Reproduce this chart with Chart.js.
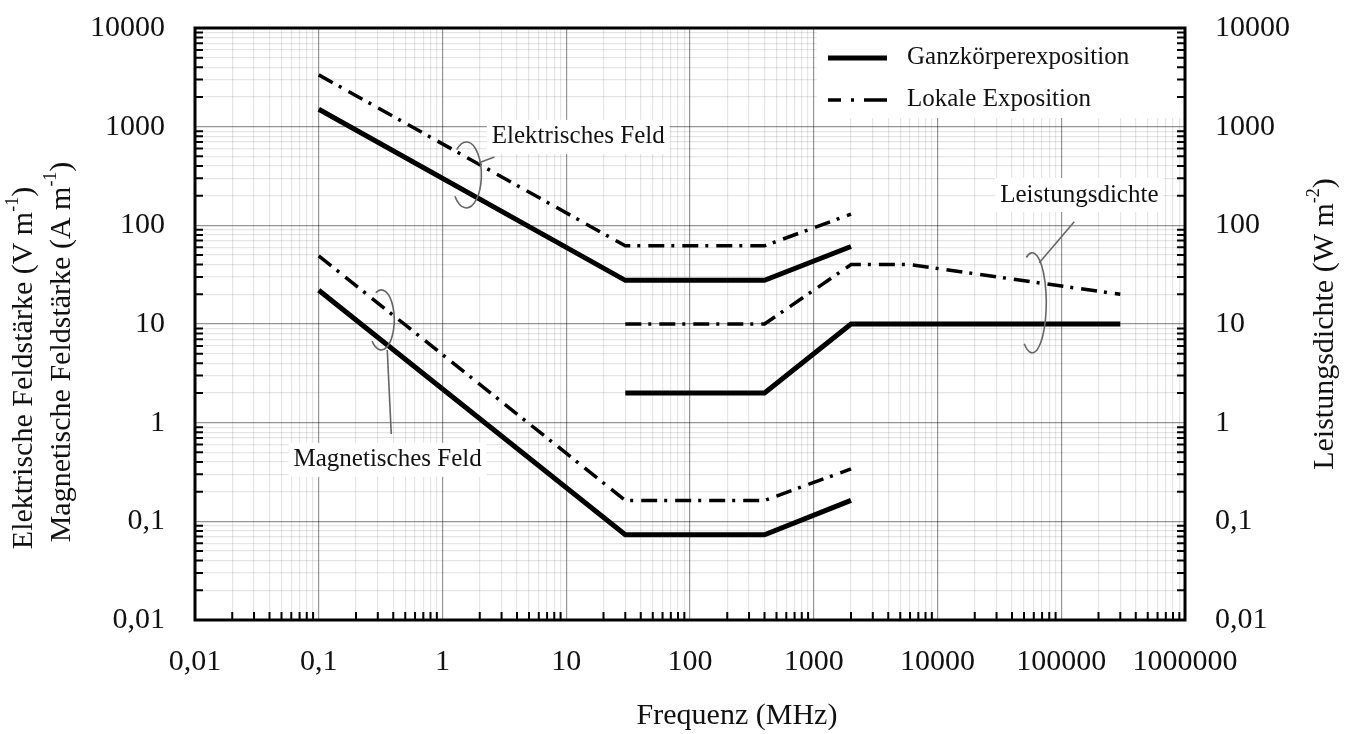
<!DOCTYPE html>
<html>
<head>
<meta charset="utf-8">
<script src="https://cdn.jsdelivr.net/npm/chart.js@4.4.1/dist/chart.umd.min.js"></script>
<style>
  html, body { margin: 0; padding: 0; background: #fff; }
  canvas { display: block; }
</style>
</head>
<body>
<canvas id="myChart" width="1355" height="734"></canvas>
<script>
const wholeE_f = [0.1, 30, 400, 2000];
const wholeE_v = [1500, 27.7, 27.7, 61];
const wholeH_f = [0.1, 30, 400, 2000];
const wholeH_v = [22, 0.073, 0.073, 0.163];
const wholeS_f = [30, 400, 2000, 300000];
const wholeS_v = [2, 2, 10, 10];
const localE_f = [0.1, 30, 400, 2000];
const localE_v = [3350, 62, 62, 130];
const localH_f = [0.1, 30, 400, 2000];
const localH_v = [49, 0.163, 0.163, 0.34];
const localS_f = [30, 400, 2000, 6000, 300000];
const localS_v = [10, 10, 40, 40, 20];

const xTickLabels = ["0,01", "0,1", "1", "10", "100", "1000", "10000", "100000", "1000000"];
const yTickLabels = ["0,01", "0,1", "1", "10", "100", "1000", "10000"];

const SERIF = '"Liberation Serif", "DejaVu Serif", serif';
const DASHDOT = [16, 7, 3, 8];

const pts = (f, v) => f.map((x, i) => ({ x: x, y: v[i] }));
const isMajor = (v) => Math.abs(Math.log10(v) - Math.round(Math.log10(v))) < 1e-9;
const isHalf = (v) => Math.abs(v / Math.pow(10, Math.floor(Math.log10(v) + 1e-9)) - 1.5) < 1e-6;

function tickLabel(labels) {
  return function (v) {
    if (!isMajor(v)) return "";
    return labels[Math.round(Math.log10(v)) + 2];
  };
}

function gridColor(ctx) {
  if (!ctx.tick) return "rgba(0,0,0,0)";
  return isMajor(ctx.tick.value) ? "rgba(0,0,0,0.42)" : "rgba(0,0,0,0.10)";
}

const tickFont = { family: SERIF, size: 30 };

function line(label, f, v, dashed, axis) {
  return {
    label: label,
    data: pts(f, v),
    showLine: true,
    borderColor: "#000",
    borderWidth: dashed ? 3.5 : 5,
    borderDash: dashed ? DASHDOT : [],
    pointRadius: 0,
    fill: false,
    tension: 0,
    yAxisID: axis,
  };
}

// Text mit Hochstellung, zentriert um (cx, cy)
function drawParts(ctx, parts, cx, cy, rot) {
  ctx.save();
  ctx.translate(cx, cy);
  ctx.rotate(rot);
  ctx.textBaseline = "middle";
  ctx.textAlign = "left";
  let total = 0;
  parts.forEach(p => {
    ctx.font = (p[1] ? 18 : 30) + "px " + SERIF;
    total += ctx.measureText(p[0]).width;
  });
  let x = -total / 2;
  parts.forEach(p => {
    ctx.font = (p[1] ? 18 : 30) + "px " + SERIF;
    ctx.fillStyle = "#111";
    ctx.fillText(p[0], x, p[1] ? -11 : 0);
    x += ctx.measureText(p[0]).width;
  });
  ctx.restore();
}

// Beschriftungen im Diagramm: Anker in Datenkoordinaten
const notes = [
  { text: "Elektrisches Feld", tx: 12.5, ty: 787, lx: 1.56, ly: 324, rx: 15, ry: 33, a0: -130, a1: 140, lead: [12, -12, 28, -18] },
  { text: "Magnetisches Feld", tx: 0.36, ty: 0.42, lx: 0.32, ly: 11, rx: 13, ry: 30, a0: -115, a1: 135, lead: [6, 30, 10, 114] },
  { text: "Leistungsdichte", tx: 140000, ty: 203, lx: 58300, ly: 16.4, rx: 14, ry: 50, a0: -115, a1: 125, lead: [7, -40, 42, -81] },
];

const decorPlugin = {
  id: "decor",
  beforeDatasetsDraw(chart) {
    const { ctx, chartArea, scales } = chart;
    ctx.save();
    ctx.fillStyle = "#fff";
    // Legendenfeld
    const lx = scales.x.getPixelForValue(1000) + 3;
    ctx.fillRect(lx, chartArea.top, chartArea.right - lx, 90);
    // Hintergrund der Beschriftungen
    ctx.font = "25px " + SERIF;
    notes.forEach(n => {
      const w = ctx.measureText(n.text).width;
      const x = scales.x.getPixelForValue(n.tx);
      const y = scales.y.getPixelForValue(n.ty);
      ctx.fillRect(x - w / 2 - 5, y - 17, w + 10, 34);
    });
    ctx.restore();
  },
  afterDatasetsDraw(chart) {
    const { ctx, chartArea, scales } = chart;
    ctx.save();
    // Schlaufen und Hinweislinien
    ctx.strokeStyle = "#666";
    ctx.lineWidth = 1.6;
    notes.forEach(n => {
      const cx = scales.x.getPixelForValue(n.lx);
      const cy = scales.y.getPixelForValue(n.ly);
      ctx.beginPath();
      ctx.ellipse(cx, cy, n.rx, n.ry, 0, n.a0 * Math.PI / 180, n.a1 * Math.PI / 180);
      ctx.stroke();
      ctx.beginPath();
      ctx.moveTo(cx + n.lead[0], cy + n.lead[1]);
      ctx.lineTo(cx + n.lead[2], cy + n.lead[3]);
      ctx.stroke();
    });
    ctx.fillStyle = "#111";
    ctx.font = "25px " + SERIF;
    ctx.textAlign = "center";
    ctx.textBaseline = "middle";
    notes.forEach(n => {
      ctx.fillText(n.text, scales.x.getPixelForValue(n.tx), scales.y.getPixelForValue(n.ty));
    });

    // Legende
    const r = chartArea.right;
    const t = chartArea.top;
    ctx.strokeStyle = "#000";
    ctx.lineWidth = 5;
    ctx.beginPath();
    ctx.moveTo(r - 357, t + 30);
    ctx.lineTo(r - 298, t + 30);
    ctx.stroke();
    ctx.lineWidth = 3.5;
    ctx.setLineDash([13, 10, 3, 10, 30]);
    ctx.beginPath();
    ctx.moveTo(r - 357, t + 72);
    ctx.lineTo(r - 298, t + 72);
    ctx.stroke();
    ctx.setLineDash([]);
    ctx.textAlign = "left";
    ctx.fillText("Ganzkörperexposition", r - 278, t + 29);
    ctx.fillText("Lokale Exposition", r - 278, t + 71);
    ctx.restore();
  },
  afterDraw(chart) {
    const { ctx, chartArea, scales } = chart;
    const { left, right, top, bottom } = chartArea;
    ctx.save();
    ctx.strokeStyle = "#000";
    // kleine Teilstriche
    ctx.lineWidth = 2;
    ctx.beginPath();
    scales.y.ticks.forEach(tk => {
      if (isMajor(tk.value)) return;
      const y = scales.y.getPixelForValue(tk.value);
      ctx.moveTo(left, y); ctx.lineTo(left + 8, y);
      ctx.moveTo(right, y); ctx.lineTo(right - 8, y);
    });
    scales.x.ticks.forEach(tk => {
      if (isMajor(tk.value)) return;
      const x = scales.x.getPixelForValue(tk.value);
      ctx.moveTo(x, bottom); ctx.lineTo(x, bottom - 8);
    });
    ctx.stroke();
    // Rahmen
    ctx.lineWidth = 3;
    ctx.strokeRect(left, top, right - left, bottom - top);
    ctx.restore();

    // Achsentitel
    drawParts(ctx, [["Elektrische Feldstärke (V m", false], ["-1", true], [")", false]], 24, 368, -Math.PI / 2);
    drawParts(ctx, [["Magnetische Feldstärke (A m", false], ["-1", true], [")", false]], 62, 352, -Math.PI / 2);
    drawParts(ctx, [["Leistungsdichte (W m", false], ["-2", true], [")", false]], 1325, 324, -Math.PI / 2);
    drawParts(ctx, [["Frequenz (MHz)", false]], 737, 716, 0);
  },
};

function dropHalf(scale) {
  scale.ticks = scale.ticks.filter(t => !isHalf(t.value));
}

const yAxis = (pos, width, grid) => ({
  type: "logarithmic",
  position: pos,
  min: 0.01,
  max: 10000,
  afterBuildTicks: dropHalf,
  afterFit(s) {
    s.width = width;
    s.paddingTop = 0;
    s.paddingBottom = 0;
  },
  grid: { display: grid, color: gridColor, lineWidth: 1.2, drawTicks: false },
  border: { display: false },
  ticks: { autoSkip: false, padding: 30, color: "#111", font: tickFont, callback: tickLabel(yTickLabels) },
});

const ctx1 = document.getElementById("myChart").getContext("2d");
const limitChart = new Chart(ctx1, {
  type: "scatter",
  data: {
    datasets: [
      line("Ganzkörperexposition E", wholeE_f, wholeE_v, false, "y"),
      line("Ganzkörperexposition H", wholeH_f, wholeH_v, false, "y"),
      line("Ganzkörperexposition S", wholeS_f, wholeS_v, false, "y2"),
      line("Lokale Exposition E", localE_f, localE_v, true, "y"),
      line("Lokale Exposition H", localH_f, localH_v, true, "y"),
      line("Lokale Exposition S", localS_f, localS_v, true, "y2"),
    ],
  },
  options: {
    responsive: false,
    animation: false,
    layout: { padding: { top: 28, left: 0, right: 0, bottom: 0 } },
    plugins: { legend: { display: false }, tooltip: { enabled: false } },
    scales: {
      x: {
        type: "logarithmic",
        position: "bottom",
        min: 0.01,
        max: 1000000,
        afterBuildTicks: dropHalf,
        afterFit(s) { s.height = 114; },
        grid: { color: gridColor, lineWidth: 1.2, drawTicks: false },
        border: { display: false },
        ticks: { autoSkip: false, maxRotation: 0, minRotation: 0, padding: 24, color: "#111", font: tickFont, callback: tickLabel(xTickLabels) },
      },
      y: yAxis("left", 195, true),
      y2: yAxis("right", 170, false),
    },
  },
  plugins: [decorPlugin],
});
</script>
</body>
</html>
